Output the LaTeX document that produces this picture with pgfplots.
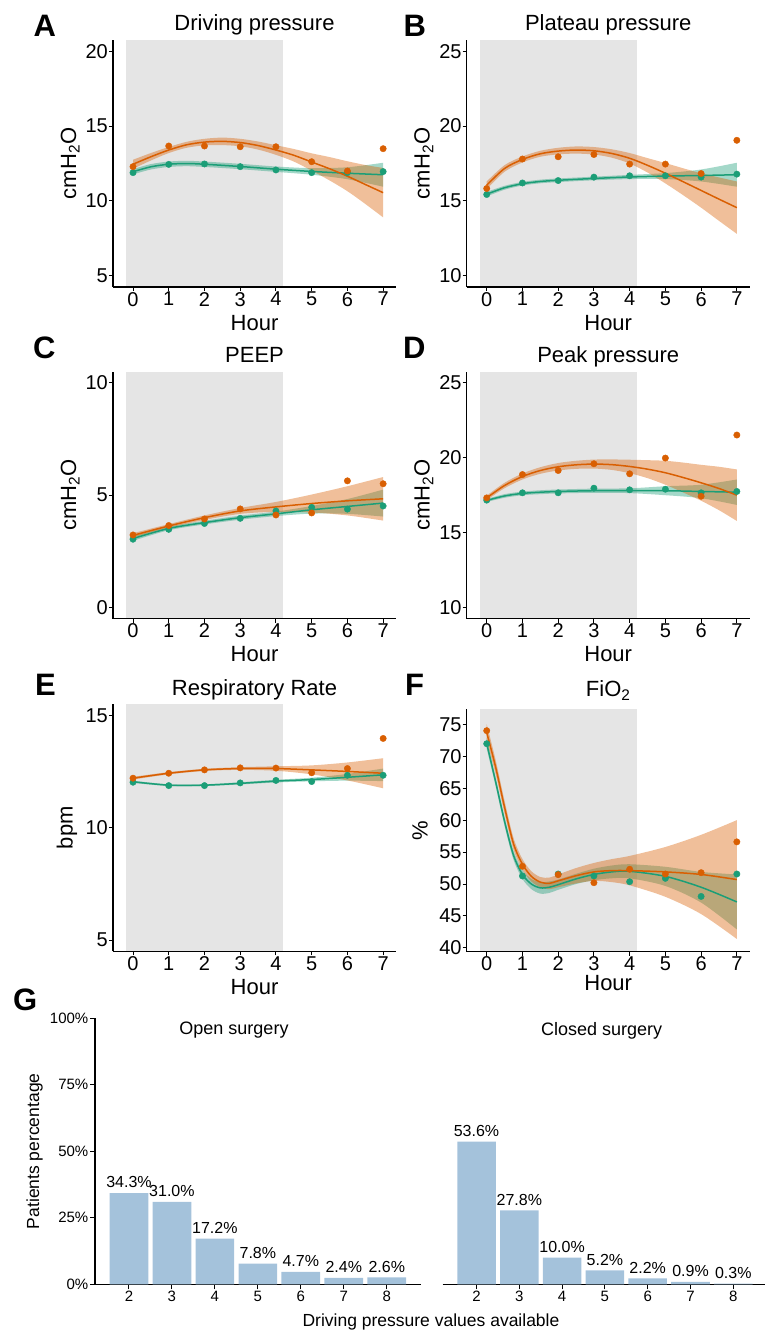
\documentclass[border=0pt]{standalone}
\usepackage{fontspec}
\setmainfont{Liberation Sans}
\usepackage{pgfplots}
\pgfplotsset{compat=1.18}
\usepackage{pgfplotstable}
\usepgfplotslibrary{fillbetween}

\definecolor{dorange}{RGB}{217,95,2}
\definecolor{dgreen}{RGB}{27,158,119}
\definecolor{shade}{RGB}{229,229,229}
\definecolor{barblue}{RGB}{164,194,219}

% fitted curves: x, fit, lower, upper
\pgfplotstableread{
x m lo hi
0 12.45 12.15 12.75
0.5 12.95 12.70 13.20
1 13.40 13.20 13.60
1.5 13.75 13.55 13.95
2 13.93 13.71 14.15
2.5 13.98 13.73 14.23
3 13.90 13.65 14.15
3.5 13.70 13.43 13.97
4 13.40 13.08 13.72
4.5 13.05 12.63 13.47
5 12.60 12.02 13.18
5.5 12.15 11.37 12.93
6 11.65 10.65 12.65
6.5 11.10 9.80 12.40
7 10.55 8.90 12.20
}\Ao
\pgfplotstableread{
x m lo hi
0 11.95 11.77 12.13
0.5 12.28 12.10 12.46
1 12.45 12.27 12.63
1.5 12.50 12.32 12.68
2 12.45 12.27 12.63
3 12.30 12.12 12.48
4 12.12 11.94 12.30
5 11.97 11.75 12.19
6 11.85 11.45 12.25
7 11.75 10.95 12.55
}\Ag
\pgfplotstableread{
x open closed
0 12.29 11.89
1 13.67 12.44
2 13.67 12.47
3 13.62 12.29
4 13.62 12.07
5 12.62 11.89
6 12.00 11.89
7 13.49 11.96
}\Ap

\pgfplotstableread{
x m lo hi
0 16.05 15.80 16.30
0.5 17.17 16.95 17.39
1 17.77 17.57 17.97
1.5 18.15 17.95 18.35
2 18.33 18.11 18.55
2.5 18.40 18.16 18.64
3 18.35 18.10 18.60
3.5 18.17 17.89 18.45
4 17.85 17.50 18.20
4.5 17.38 16.90 17.86
5 16.85 16.17 17.53
5.5 16.28 15.38 17.18
6 15.70 14.55 16.85
6.5 15.12 13.67 16.57
7 14.55 12.80 16.30
}\Bo
\pgfplotstableread{
x m lo hi
0 15.45 15.30 15.60
0.5 15.88 15.75 16.01
1 16.15 16.03 16.27
1.5 16.30 16.18 16.42
2 16.38 16.26 16.50
3 16.50 16.38 16.62
4 16.60 16.46 16.74
5 16.66 16.46 16.86
6 16.70 16.30 17.10
7 16.75 15.95 17.55
}\Bg
\pgfplotstableread{
x open closed
0 15.83 15.43
1 17.80 16.20
2 17.95 16.36
3 18.10 16.59
4 17.46 16.68
5 17.46 16.68
6 16.83 16.59
7 19.05 16.79
}\Bp

\pgfplotstableread{
x m lo hi
0 3.21 3.11 3.31
1 3.63 3.55 3.71
2 4.00 3.90 4.10
3 4.30 4.17 4.43
4 4.48 4.26 4.70
5 4.63 4.23 5.03
6 4.75 4.10 5.40
7 4.84 3.87 5.81
}\Co
\pgfplotstableread{
x m lo hi
0 3.07 2.97 3.17
1 3.52 3.44 3.60
2 3.78 3.70 3.86
3 4.00 3.91 4.09
4 4.17 4.07 4.27
5 4.35 4.18 4.52
6 4.50 4.17 4.83
7 4.65 4.05 5.25
}\Cg
\pgfplotstableread{
x open closed
0 3.23 3.04
1 3.65 3.48
2 3.94 3.74
3 4.39 3.97
4 4.12 4.30
5 4.21 4.46
6 5.64 4.38
7 5.51 4.52
}\Cp

\pgfplotstableread{
x m lo hi
0 17.32 17.17 17.47
0.5 18.15 17.97 18.33
1 18.75 18.55 18.95
1.5 19.15 18.93 19.37
2 19.40 19.15 19.65
2.5 19.53 19.26 19.80
3 19.58 19.28 19.88
3.5 19.54 19.19 19.89
4 19.42 18.97 19.87
4.5 19.24 18.64 19.84
5 19.00 18.20 19.80
5.5 18.68 17.68 19.68
6 18.33 17.13 19.53
6.5 17.95 16.50 19.40
7 17.50 15.78 19.22
}\Do
\pgfplotstableread{
x m lo hi
0 17.15 17.05 17.25
0.5 17.45 17.33 17.57
1 17.62 17.50 17.74
1.5 17.70 17.57 17.83
2 17.75 17.62 17.88
3 17.80 17.66 17.94
4 17.80 17.64 17.96
5 17.80 17.50 18.10
6 17.75 17.30 18.20
7 17.70 16.85 18.55
}\Dg
\pgfplotstableread{
x open closed
0 17.32 17.17
1 18.88 17.66
2 19.15 17.66
3 19.60 17.97
4 18.93 17.86
5 19.98 17.90
6 17.43 17.66
7 21.52 17.75
}\Dp

\pgfplotstableread{
x m lo hi
0 12.21 12.15 12.27
1 12.43 12.38 12.48
2 12.58 12.53 12.63
3 12.64 12.58 12.70
4 12.64 12.54 12.74
5 12.58 12.38 12.78
6 12.51 12.11 12.91
7 12.43 11.76 13.10
}\Eo
\pgfplotstableread{
x m lo hi
0 12.05 12.00 12.10
1 11.90 11.86 11.94
2 11.90 11.86 11.94
3 11.98 11.93 12.03
4 12.08 12.02 12.14
5 12.15 12.07 12.23
6 12.25 12.10 12.40
7 12.36 12.08 12.64
}\Eg
\pgfplotstableread{
x open closed
0 12.21 12.03
1 12.43 11.88
2 12.58 11.88
3 12.67 12.00
4 12.66 12.11
5 12.45 12.06
6 12.64 12.34
7 13.98 12.34
}\Ep

\pgfplotstableread{
x m lo hi
0 73.7 72.4 75.0
0.25 68.3 67.2 69.4
0.5 62.0 61.0 63.0
0.75 56.3 55.4 57.2
1 53.1 52.3 53.9
1.25 51.2 50.4 52.0
1.5 50.3 49.5 51.1
1.75 50.1 49.2 51.0
2 50.5 49.5 51.5
2.5 51.3 50.1 52.5
3 51.9 50.5 53.3
3.5 52.1 50.3 53.9
4 52.1 49.8 54.4
5 51.9 48.0 55.8
6 51.5 45.3 57.7
7 50.7 41.4 60.0
}\Fo
\pgfplotstableread{
x m lo hi
0 72.0 71.2 72.8
0.25 66.0 65.3 66.7
0.5 59.8 59.1 60.5
0.75 54.5 53.8 55.2
1 51.5 50.8 52.2
1.25 50.0 49.2 50.8
1.5 49.4 48.5 50.3
1.75 49.5 48.6 50.4
2 49.9 49.1 50.7
2.5 50.8 50.0 51.6
3 51.5 50.6 52.4
3.5 51.9 50.9 52.9
4 52.0 50.9 53.1
5 51.2 49.7 52.7
6 49.5 47.1 51.9
7 47.2 42.9 51.5
}\Fg
\pgfplotstableread{
x open closed
0 74.00 71.96
1 52.78 51.26
2 51.47 51.57
3 50.21 51.26
4 52.31 50.37
5 51.57 50.89
6 51.78 48.06
7 56.60 51.57
}\Fp

\pgfplotstableread{
n open closed
2 34.3 53.6
3 31.0 27.8
4 17.2 10.0
5 7.8 5.2
6 4.7 2.2
7 2.4 0.9
8 2.6 0.3
}\Gp

\newcommand\fs[1]{\fontsize{#1}{#1}\selectfont}

\pgfplotsset{
  panel/.style={
    set layers,
    scale only axis, width=283pt, height=247pt,
    xmin=-0.56, xmax=7.36, xtick={0,...,7},
    enlargelimits=false,
    axis x line*=bottom, axis y line*=left,
    axis line style={line width=1.4pt,-},
    tick pos=left, tick align=outside, major tick length=4pt,
    tick style={black, line width=1pt},
    ticklabel style={font=\fs{20}, inner sep=1pt},
    /pgf/number format/assume math mode=true,
    xlabel={Hour},
    every axis x label/.style={at={(axis description cs:0.5,0)}, anchor=base, yshift=-43pt, font=\fs{22}},
    every axis y label/.style={at={(axis description cs:-0.1307,0.5)}, anchor=base, rotate=90, font=\fs{22}},
    every axis title/.style={at={(axis description cs:0.5,1)}, anchor=base, yshift=9.3pt, font=\fs{22}},
  },
  pts/.style={only marks, mark=*, mark size=3.2pt, on layer=axis background},
}

% fitted curve with its confidence band
\newcommand\band[3]{%
  \addplot[name path=#3l, draw=none, smooth] table[y=lo]{#1};
  \addplot[name path=#3h, draw=none, smooth] table[y=hi]{#1};
  \addplot[fill=#2, fill opacity=0.4, draw=none] fill between[of=#3l and #3h];
  \addplot[#2, line width=1.5pt, smooth] table[y=m]{#1};
}
\newcommand\shaded[2]{%
  \addplot[fill=shade, draw=none, on layer=axis background] coordinates {(-0.2,#1) (4.2,#1) (4.2,#2) (-0.2,#2)} -- cycle;
}
\newcommand\points[1]{%
  \addplot[pts, dgreen] table[y=closed]{#1};
  \addplot[pts, dorange] table[y=open]{#1};
}

\begin{document}
\begin{tikzpicture}

% A
\begin{axis}[panel, at={(113pt,-40pt)}, anchor=north west,
  ymin=4.25, ymax=20.75, ytick={5,10,15,20},
  title={Driving pressure}, ylabel={cmH\textsubscript{2}O}]
\shaded{4.25}{20.75}
\points{\Ap}
\band{\Ag}{dgreen}{ag}
\band{\Ao}{dorange}{ao}
\end{axis}

% B
\begin{axis}[panel, at={(466.7pt,-40pt)}, anchor=north west,
  ymin=9.25, ymax=25.75, ytick={10,15,20,25},
  title={Plateau pressure}, ylabel={cmH\textsubscript{2}O}]
\shaded{9.25}{25.75}
\points{\Bp}
\band{\Bg}{dgreen}{bg}
\band{\Bo}{dorange}{bo}
\end{axis}

% C
\begin{axis}[panel, at={(113pt,-371.7pt)}, anchor=north west,
  ymin=-0.5, ymax=10.5, ytick={0,5,10},
  title={PEEP}, ylabel={cmH\textsubscript{2}O}]
\shaded{-0.5}{10.5}
\points{\Cp}
\band{\Cg}{dgreen}{cg}
\band{\Co}{dorange}{co}
\end{axis}

% D
\begin{axis}[panel, at={(466.7pt,-371.7pt)}, anchor=north west,
  ymin=9.25, ymax=25.75, ytick={10,15,20,25},
  title={Peak pressure}, ylabel={cmH\textsubscript{2}O}]
\shaded{9.25}{25.75}
\points{\Dp}
\band{\Dg}{dgreen}{dg}
\band{\Do}{dorange}{do}
\end{axis}

% E
\begin{axis}[panel, at={(113pt,-704.3pt)}, anchor=north west,
  ymin=4.5, ymax=15.5, ytick={5,10,15},
  title={Respiratory Rate}, ylabel={bpm},
  every axis y label/.append style={at={(axis description cs:-0.1424,0.5)}}]
\shaded{4.5}{15.5}
\points{\Ep}
\band{\Eg}{dgreen}{eg}
\band{\Eo}{dorange}{eo}
\end{axis}

% F
\begin{axis}[panel, at={(466.7pt,-709pt)}, anchor=north west, height=242.7pt,
  ymin=39.41, ymax=77.39, ytick={40,45,...,75},
  title={FiO\textsubscript{2}}, ylabel={\%},
  every axis title/.append style={yshift=3pt},
  every axis y label/.append style={at={(axis description cs:-0.1378,0.5)}},
  every axis x label/.append style={yshift=4.3pt}]
\shaded{39.41}{77.39}
\points{\Fp}
\band{\Fg}{dgreen}{fg}
\band{\Fo}{dorange}{fo}
\end{axis}

% G, open surgery
\begin{axis}[scale only axis, width=325.7pt, height=266pt,
  at={(95pt,-1018.3pt)}, anchor=north west,
  xmin=1.21, xmax=8.79, ymin=0, ymax=100, enlargelimits=false,
  xtick={2,...,8}, ytick={0,25,50,75,100},
  yticklabels={0\%,25\%,50\%,75\%,100\%},
  axis x line*=bottom, axis y line*=left,
  axis line style={line width=1.4pt,-},
  tick pos=left, tick align=outside, major tick length=5pt,
  tick style={black, line width=1pt},
  ticklabel style={font=\fs{15}, inner sep=1.5pt},
  /pgf/number format/assume math mode=true,
  ylabel={Patients percentage},
  every axis y label/.style={at={(axis description cs:-0.1713,0.5)}, anchor=base, rotate=90, font=\fs{17.5}},
  ybar, bar width=0.9,
  nodes near coords={\pgfmathprintnumber[fixed,fixed zerofill,precision=1,assume math mode=true]{\pgfplotspointmeta}\%},
  every node near coord/.append style={font=\fs{16}, text=black, inner sep=0pt, anchor=south, yshift=5pt}]
\addplot[fill=barblue, draw=none] table[x=n, y=open]{\Gp};
\end{axis}

% G, closed surgery
\begin{axis}[scale only axis, width=324.4pt, height=266pt,
  at={(442.7pt,-1018.3pt)}, anchor=north west,
  xmin=1.21, xmax=8.79, ymin=0, ymax=100, enlargelimits=false,
  xtick={2,...,8}, ytick={0,50,100}, yticklabels={},
  axis x line*=bottom, axis y line*=left,
  axis line style={line width=1.4pt,-},
  y axis line style={draw=none}, ytick style={draw=none},
  tick pos=left, tick align=outside, major tick length=5pt,
  tick style={black, line width=1pt},
  ticklabel style={font=\fs{15}, inner sep=1.5pt},
  /pgf/number format/assume math mode=true,
  ybar, bar width=0.9,
  nodes near coords={\pgfmathprintnumber[fixed,fixed zerofill,precision=1,assume math mode=true]{\pgfplotspointmeta}\%},
  every node near coord/.append style={font=\fs{16}, text=black, inner sep=0pt, anchor=south, yshift=5pt}]
\addplot[fill=barblue, draw=none] table[x=n, y=closed]{\Gp};
\end{axis}

\node[anchor=base, font=\fs{18}] at (234pt,-1034.5pt) {Open surgery};
\node[anchor=base, font=\fs{18}] at (601.7pt,-1035.5pt) {Closed surgery};
\node[anchor=base, font=\fs{17.5}] at (431pt,-1326.7pt) {Driving pressure values available};

% panel letters
\begin{scope}[every node/.style={anchor=base west, inner sep=0pt, font=\fs{31}\bfseries}]
\node at (33.3pt,-36pt) {A};
\node at (403.3pt,-36pt) {B};
\node at (33pt,-358pt) {C};
\node at (403pt,-358pt) {D};
\node at (35pt,-695pt) {E};
\node at (405pt,-695pt) {F};
\node at (13pt,-1010.7pt) {G};
\end{scope}

\pgfresetboundingbox
\path[use as bounding box] (0,0) rectangle (765pt,-1331pt);
\end{tikzpicture}
\end{document}
